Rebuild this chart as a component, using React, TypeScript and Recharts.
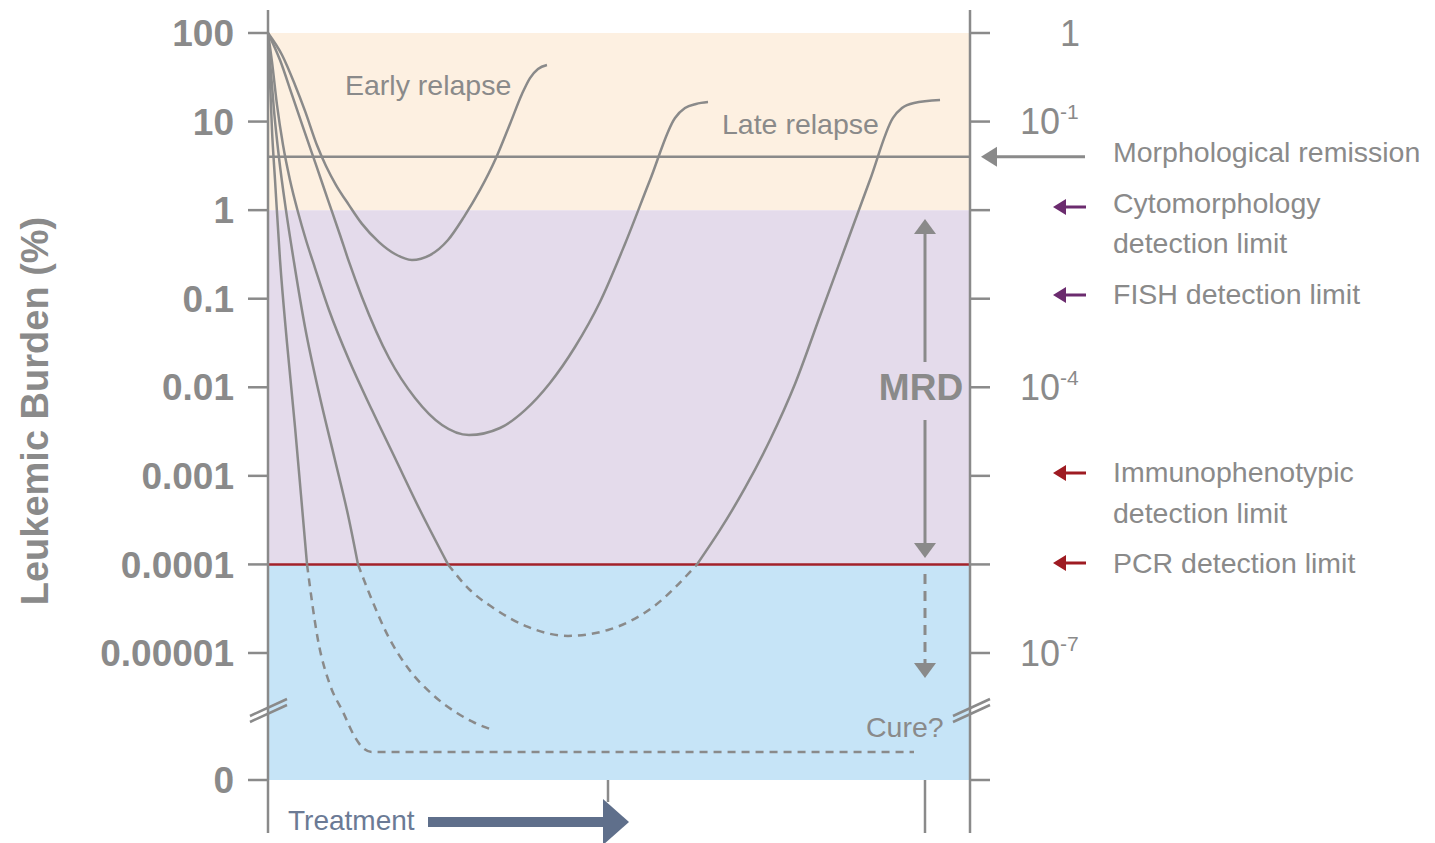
import React from 'react';
import { LineChart, Line, XAxis, YAxis, ReferenceArea, ReferenceLine } from 'recharts';

// time (0..100, arbitrary) vs leukemic burden in %
const earlyRelapse = [[0, 100], [2, 56.5], [3.85, 25.9], [5.27, 13.2], [6.98, 5.4], [8.26, 3.15], [9.69, 1.92], [11.54, 1.14], [13.39, 0.7], [15.81, 0.436], [18.09, 0.32], [20.51, 0.274], [23.08, 0.311], [25.64, 0.46], [27.92, 0.84], [30.2, 1.69], [32.48, 3.88], [34.47, 9.4], [36.18, 20.5], [37.32, 31], [38.46, 39.3], [39.74, 43.5]];
const lateRelapse = [[0, 100], [1.71, 49.5], [3.42, 20], [5.13, 8], [6.84, 3.24], [8.55, 1.3], [10.26, 0.524], [11.54, 0.26], [13.39, 0.104], [17.24, 0.0214], [20.94, 0.00757], [24.79, 0.00375], [28.63, 0.00289], [33.05, 0.00347], [36.61, 0.00553], [40.17, 0.0112], [43.73, 0.0285], [47.29, 0.0918], [50.85, 0.415], [54.42, 2.19], [57.98, 11], [59.4, 14.2], [60.97, 15.8], [62.68, 16.6]];
const molecularDown = [[0, 100], [0.57, 47.1], [1.28, 15.4], [2.14, 5.43], [3.13, 2.19], [4.27, 0.953], [5.41, 0.46], [6.7, 0.222], [8.69, 0.0746], [11.54, 0.0203], [14.81, 0.00553], [18.09, 0.00159], [21.65, 0.000411], [25.64, 0.0001]];
const molecularHidden = [[25.64, 0.0001], [28.77, 0.0000514], [31.91, 0.000033], [37.04, 0.0000197], [42.74, 0.0000156], [48.43, 0.0000182], [54.84, 0.000033], [61.11, 0.0001]];
const molecularUp = [[61.11, 0.0001], [64.39, 0.000245], [67.95, 0.00073], [71.51, 0.00254], [75.07, 0.0109], [78.63, 0.0638], [82.19, 0.374], [85.75, 2.19], [89.03, 11], [90.31, 14.2], [92.02, 16.2], [95.73, 17.5]];
const deepDown = [[0, 100], [0.28, 49.5], [0.85, 13.5], [1.57, 3.88], [2.56, 1], [3.7, 0.26], [5.27, 0.048], [7.26, 0.0086], [9.54, 0.00151], [11.4, 0.000361], [12.82, 0.0001]];
const deepHidden = [[12.82, 0.0001], [14.81, 0.0000396], [17.09, 0.0000156], [19.94, 0.00000676], [23.36, 0.00000344], [26.92, 0.0000021], [29.49, 0.00000162], [32.05, 0.00000135]];
const cureDown = [[0, 100], [0.28, 29.4], [0.57, 8], [1, 2.19], [1.71, 0.274], [2.71, 0.0316], [3.85, 0.00356], [4.7, 0.000608], [5.56, 0.0001]];
const cureHidden = [[5.56, 0.0001], [7.12, 0.000014], [8.83, 0.00000436], [10.68, 0.00000216], [12.39, 0.00000112], [13.53, 0.000000845], [14.81, 0.000000762], [92.02, 0.000000762]];

const leftLabels = ['100', '10', '1', '0.1', '0.01', '0.001', '0.0001', '0.00001', '0'];
const rightLabels = ['1', '10|-1', '', '', '10|-4', '', '', '10|-7', ''];
const morphLevel = 4;
const pcrLevel = 0.0001;

const W = 1435;
const H = 843;
const FONT = '"Liberation Sans", Arial, sans-serif';
const GREY = '#8a8a8a';
const DEC = 88.57;
const PLOT_TOP = 10;
const PLOT_BOT = 833;
const Y100 = 33;
const L_TOP = 2 + (Y100 - PLOT_TOP) / DEC;
const L_BOT = 2 - (PLOT_BOT - Y100) / DEC;
const L_ZERO = 2 - (780 - Y100) / DEC;
const TICKS = [2, 1, 0, -1, -2, -3, -4, -5, L_ZERO];

const lg = (v: number) => (v === 0 ? L_ZERO : Math.log10(v));
const toSeries = (pts: number[][]) => pts.map(([t, v]) => ({ t, v: lg(v) }));
const yPx = (l: number) => PLOT_TOP + (L_TOP - l) * DEC;

function RightTick(props: any) {
  const { x, y, index } = props;
  const lab = rightLabels[index];
  if (!lab) return null;
  if (!lab.includes('|')) {
    return <text x={x + 60} y={y} dy="0.355em" textAnchor="end" fontSize={36} fill={GREY} fontFamily={FONT}>{lab}</text>;
  }
  const [base, sup] = lab.split('|');
  return (
    <text x={x} y={y} dy="0.355em" fontSize={36} fill={GREY} fontFamily={FONT}>
      {base}
      <tspan fontSize={21} dy={-15}>{sup}</tspan>
    </text>
  );
}

function Arrow({ tip, y, head, half, end, color, w }: any) {
  return (
    <g>
      <line x1={tip + head - 1} y1={y} x2={end} y2={y} stroke={color} strokeWidth={w} />
      <polygon points={`${tip},${y} ${tip + head},${y - half} ${tip + head},${y + half}`} fill={color} />
    </g>
  );
}

export default function App() {
  const solid = { type: 'monotone' as const, dataKey: 'v', stroke: GREY, strokeWidth: 2.5, dot: false, isAnimationActive: false, yAxisId: 'l' };
  const dashed = { ...solid, strokeDasharray: '8 6' };
  const sideText = { fontSize: 28.5, fill: GREY, fontFamily: FONT };
  const purple = '#6b2b6e';
  const red = '#9e1b22';
  return (
    <div style={{ position: 'relative', width: W, height: H }}>
      <style>{'body{margin:0}'}</style>
      <LineChart width={W} height={H} margin={{ top: PLOT_TOP, bottom: H - PLOT_BOT, left: 168, right: 365 }}>
        <XAxis type="number" dataKey="t" domain={[0, 100]} hide allowDataOverflow />
        <YAxis
          yAxisId="l"
          type="number"
          domain={[L_BOT, L_TOP]}
          allowDataOverflow
          ticks={TICKS}
          interval={0}
          width={100}
          tickSize={20}
          tickMargin={14}
          axisLine={{ stroke: GREY, strokeWidth: 2.5 }}
          tickLine={{ stroke: GREY, strokeWidth: 2.5 }}
          tickFormatter={(v: number) => leftLabels[TICKS.indexOf(v)]}
          tick={{ fontSize: 37, fontWeight: 'bold', fill: GREY, fontFamily: FONT }}
        />
        <YAxis
          yAxisId="r"
          orientation="right"
          type="number"
          domain={[L_BOT, L_TOP]}
          allowDataOverflow
          ticks={TICKS}
          interval={0}
          width={100}
          tickSize={20}
          tickMargin={30}
          axisLine={{ stroke: GREY, strokeWidth: 2.5 }}
          tickLine={{ stroke: GREY, strokeWidth: 2.5 }}
          tick={<RightTick />}
        />
        <ReferenceArea yAxisId="l" x1={0} x2={100} y1={0} y2={2} fill="#fdf0e1" fillOpacity={1} stroke="none" />
        <ReferenceArea yAxisId="l" x1={0} x2={100} y1={-4} y2={0} fill="#e4dbeb" fillOpacity={1} stroke="none" />
        <ReferenceArea yAxisId="l" x1={0} x2={100} y1={L_ZERO} y2={-4} fill="#c6e4f7" fillOpacity={1} stroke="none" />
        <ReferenceLine yAxisId="l" y={lg(morphLevel)} stroke={GREY} strokeWidth={2.5} />
        <ReferenceLine yAxisId="l" y={lg(pcrLevel)} stroke="#a3222a" strokeWidth={2.5} />
        <Line {...solid} data={toSeries(earlyRelapse)} />
        <Line {...solid} data={toSeries(lateRelapse)} />
        <Line {...solid} data={toSeries(molecularDown)} />
        <Line {...dashed} data={toSeries(molecularHidden)} />
        <Line {...solid} data={toSeries(molecularUp)} />
        <Line {...solid} data={toSeries(deepDown)} />
        <Line {...dashed} data={toSeries(deepHidden)} />
        <Line {...solid} data={toSeries(cureDown)} />
        <Line {...dashed} data={toSeries(cureHidden)} />
      </LineChart>
      <svg width={W} height={H} style={{ position: 'absolute', left: 0, top: 0, pointerEvents: 'none' }}>
        <text transform="translate(48, 411) rotate(-90)" textAnchor="middle" fontSize={38} fontWeight="bold" fill={GREY} fontFamily={FONT}>
          Leukemic Burden (%)
        </text>
        <text x={345} y={95} {...sideText}>Early relapse</text>
        <text x={722} y={134} {...sideText}>Late relapse</text>
        <text x={866} y={737} {...sideText}>Cure?</text>

        {/* MRD arrows */}
        <line x1={925} y1={232} x2={925} y2={362} stroke={GREY} strokeWidth={3} />
        <polygon points={`925,219 914,234 936,234`} fill={GREY} />
        <text x={921} y={400} textAnchor="middle" fontSize={37} fontWeight="bold" fill={GREY} fontFamily={FONT}>MRD</text>
        <line x1={925} y1={420} x2={925} y2={546} stroke={GREY} strokeWidth={3} />
        <polygon points={`925,558 914,543 936,543`} fill={GREY} />
        <line x1={925} y1={574} x2={925} y2={664} stroke={GREY} strokeWidth={3} strokeDasharray="10 7" />
        <polygon points={`925,678 914,663 936,663`} fill={GREY} />

        {/* axis breaks */}
        <line x1={250} y1={722} x2={287} y2={705} stroke={GREY} strokeWidth={2.5} />
        <line x1={250} y1={716} x2={287} y2={699} stroke={GREY} strokeWidth={2.5} />
        <line x1={953} y1={722} x2={990} y2={705} stroke={GREY} strokeWidth={2.5} />
        <line x1={953} y1={716} x2={990} y2={699} stroke={GREY} strokeWidth={2.5} />

        {/* time marks below the axis */}
        <line x1={608} y1={780} x2={608} y2={802} stroke={GREY} strokeWidth={2.5} />
        <line x1={925} y1={780} x2={925} y2={833} stroke={GREY} strokeWidth={2.5} />

        {/* treatment arrow */}
        <text x={288} y={830} fontSize={28} fill="#6b7a95" fontFamily={FONT}>Treatment</text>
        <rect x={428} y={817} width={177} height={10} fill="#5f6f8b" />
        <polygon points="603,799 629,822 603,845" fill="#5f6f8b" />

        {/* detection limits */}
        <Arrow tip={981} y={yPx(lg(morphLevel))} head={16} half={10} end={1085} color={GREY} w={3} />
        <text x={1113} y={152} dy="0.355em" {...sideText}>Morphological remission</text>
        <Arrow tip={1053} y={207} head={13} half={8} end={1086} color={purple} w={3} />
        <text x={1113} y={203} dy="0.355em" {...sideText}>Cytomorphology</text>
        <text x={1113} y={243} dy="0.355em" {...sideText}>detection limit</text>
        <Arrow tip={1053} y={295} head={13} half={8} end={1086} color={purple} w={3} />
        <text x={1113} y={294} dy="0.355em" {...sideText}>FISH detection limit</text>
        <Arrow tip={1053} y={473} head={13} half={8} end={1086} color={red} w={3} />
        <text x={1113} y={472} dy="0.355em" {...sideText}>Immunophenotypic</text>
        <text x={1113} y={513} dy="0.355em" {...sideText}>detection limit</text>
        <Arrow tip={1053} y={563} head={13} half={8} end={1086} color={red} w={3} />
        <text x={1113} y={563} dy="0.355em" {...sideText}>PCR detection limit</text>
      </svg>
    </div>
  );
}
